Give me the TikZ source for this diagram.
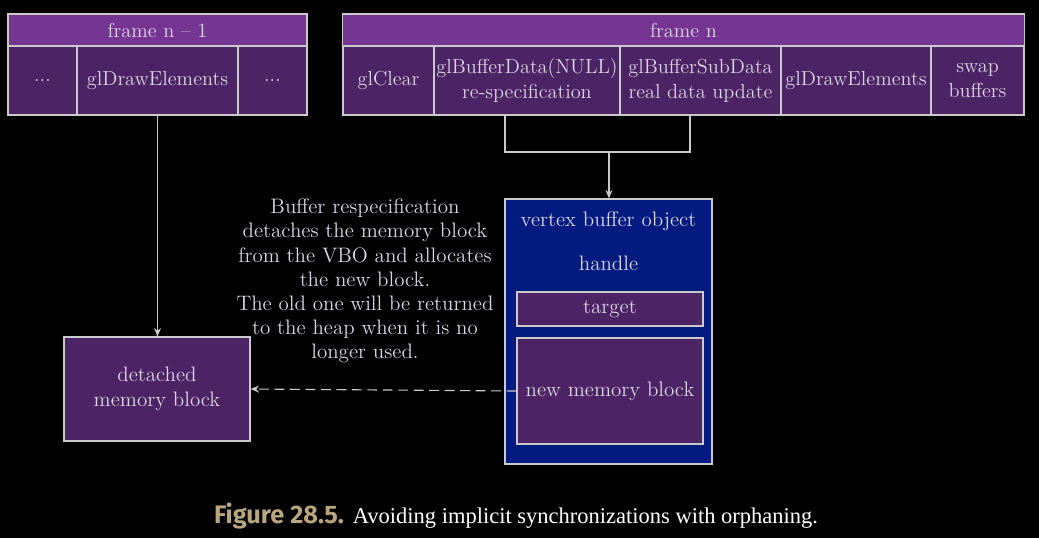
\documentclass[tikz,border=0pt]{standalone}
\usepackage{fontspec}
\newfontfamily\capsans{Fira Sans}
\newfontfamily\capserif{Liberation Serif}
\usetikzlibrary{arrows.meta}
\definecolor{hdrpurple}{HTML}{763593}
\definecolor{cellpurple}{HTML}{4C2364}
\definecolor{vboblue}{HTML}{031B80}
\definecolor{linegray}{HTML}{CACACA}
\definecolor{txtgray}{HTML}{DCD6E4}
\definecolor{captan}{HTML}{B9A67F}
\tikzset{
  cellbox/.style={draw=linegray,fill=cellpurple,line width=.8pt,inner sep=0pt,align=center,text=txtgray},
  hdrbox/.style={cellbox,fill=hdrpurple,minimum height=.8cm},
  wire/.style={draw=linegray,line width=.8pt},
  tip/.style={wire,-{Stealth[length=6pt,width=5pt]}},
  bigtxt/.style={font=\fontsize{14.9}{17.6}\selectfont}
}
\begin{document}
\begin{tikzpicture}[x=.025cm,y=-.025cm,font=\fontsize{14.4}{17.6}\selectfont]
\fill[black] (0,0) rectangle (1039,538);
\useasboundingbox (0,0) rectangle (1039,538);
% frame n-1
\node[hdrbox,minimum width=7.475cm] (prevhdr) at (157.5,30) {frame n -- 1};
\node[cellbox,minimum width=1.725cm,minimum height=1.725cm] (prevdots1) at (42.5,80.5) {...};
\node[cellbox,minimum width=4.025cm,minimum height=1.725cm] (prevdraw) at (157.5,80.5) {glDrawElements};
\node[cellbox,minimum width=1.725cm,minimum height=1.725cm] (prevdots2) at (272.5,80.5) {...};
% frame n
\node[hdrbox,minimum width=17.025cm] (curhdr) at (683.5,30) {frame n};
\node[cellbox,minimum width=2.275cm,minimum height=1.725cm] (clear) at (388.5,80.5) {glClear};
\node[cellbox,minimum width=4.65cm,minimum height=1.725cm] (bufdata) at (527,80.5) {glBufferData(NULL)\\re-specification};
\node[cellbox,minimum width=4.025cm,minimum height=1.725cm] (subdata) at (700.5,80.5) {glBufferSubData\\real data update};
\node[cellbox,minimum width=3.75cm,minimum height=1.725cm] (curdraw) at (856,80.5) {glDrawElements};
\node[cellbox,minimum width=2.325cm,minimum height=1.725cm] (swap) at (977.5,80.5) {swap\\buffers};
% vertex buffer object
\node[cellbox,fill=vboblue,minimum width=5.175cm,minimum height=6.625cm] (vbo) at (608.5,331.5) {};
\node[text=txtgray,bigtxt] (vbotitle) at (608.5,221) {vertex buffer object};
\node[text=txtgray,bigtxt] (handle) at (608.5,263) {handle};
\node[cellbox,bigtxt,minimum width=4.65cm,minimum height=.85cm] (target) at (610,309) {target};
\node[cellbox,bigtxt,minimum width=4.65cm,minimum height=2.65cm] (newmem) at (610,391) {new memory block};
% detached block
\node[cellbox,bigtxt,minimum width=4.65cm,minimum height=2.6cm] (detached) at (157,389) {detached\\memory block};
% connectors
\coordinate (jl) at (505,152);
\coordinate (jr) at (690,152);
\coordinate (jm) at (609,152);
\draw[wire] (bufdata.south -| jl) -- (jl) -- (jr) -- (subdata.south -| jr);
\draw[tip] (jm) -- (vbo.north -| jm);
\draw[tip] (prevdraw.south) -- (detached.north -| prevdraw.south);
\draw[tip,dash pattern=on 7pt off 4pt] (newmem.west) -- (detached.east);
\node[text=txtgray,align=center,font=\fontsize{14.9}{17.2}\selectfont] (note) at (365,281) {Buffer respecification\\detaches the memory block\\from the VBO and allocates\\the new block.\\The old one will be returned\\to the heap when it is no\\longer used.};
% caption
\node[text=white,inner sep=0pt] (caption) at (516,516) {{\capsans\bfseries\fontsize{18}{21}\selectfont\color{captan}Figure 28.5.} {\capserif\fontsize{16}{19}\selectfont Avoiding implicit synchronizations with orphaning.}};
\end{tikzpicture}
\end{document}
